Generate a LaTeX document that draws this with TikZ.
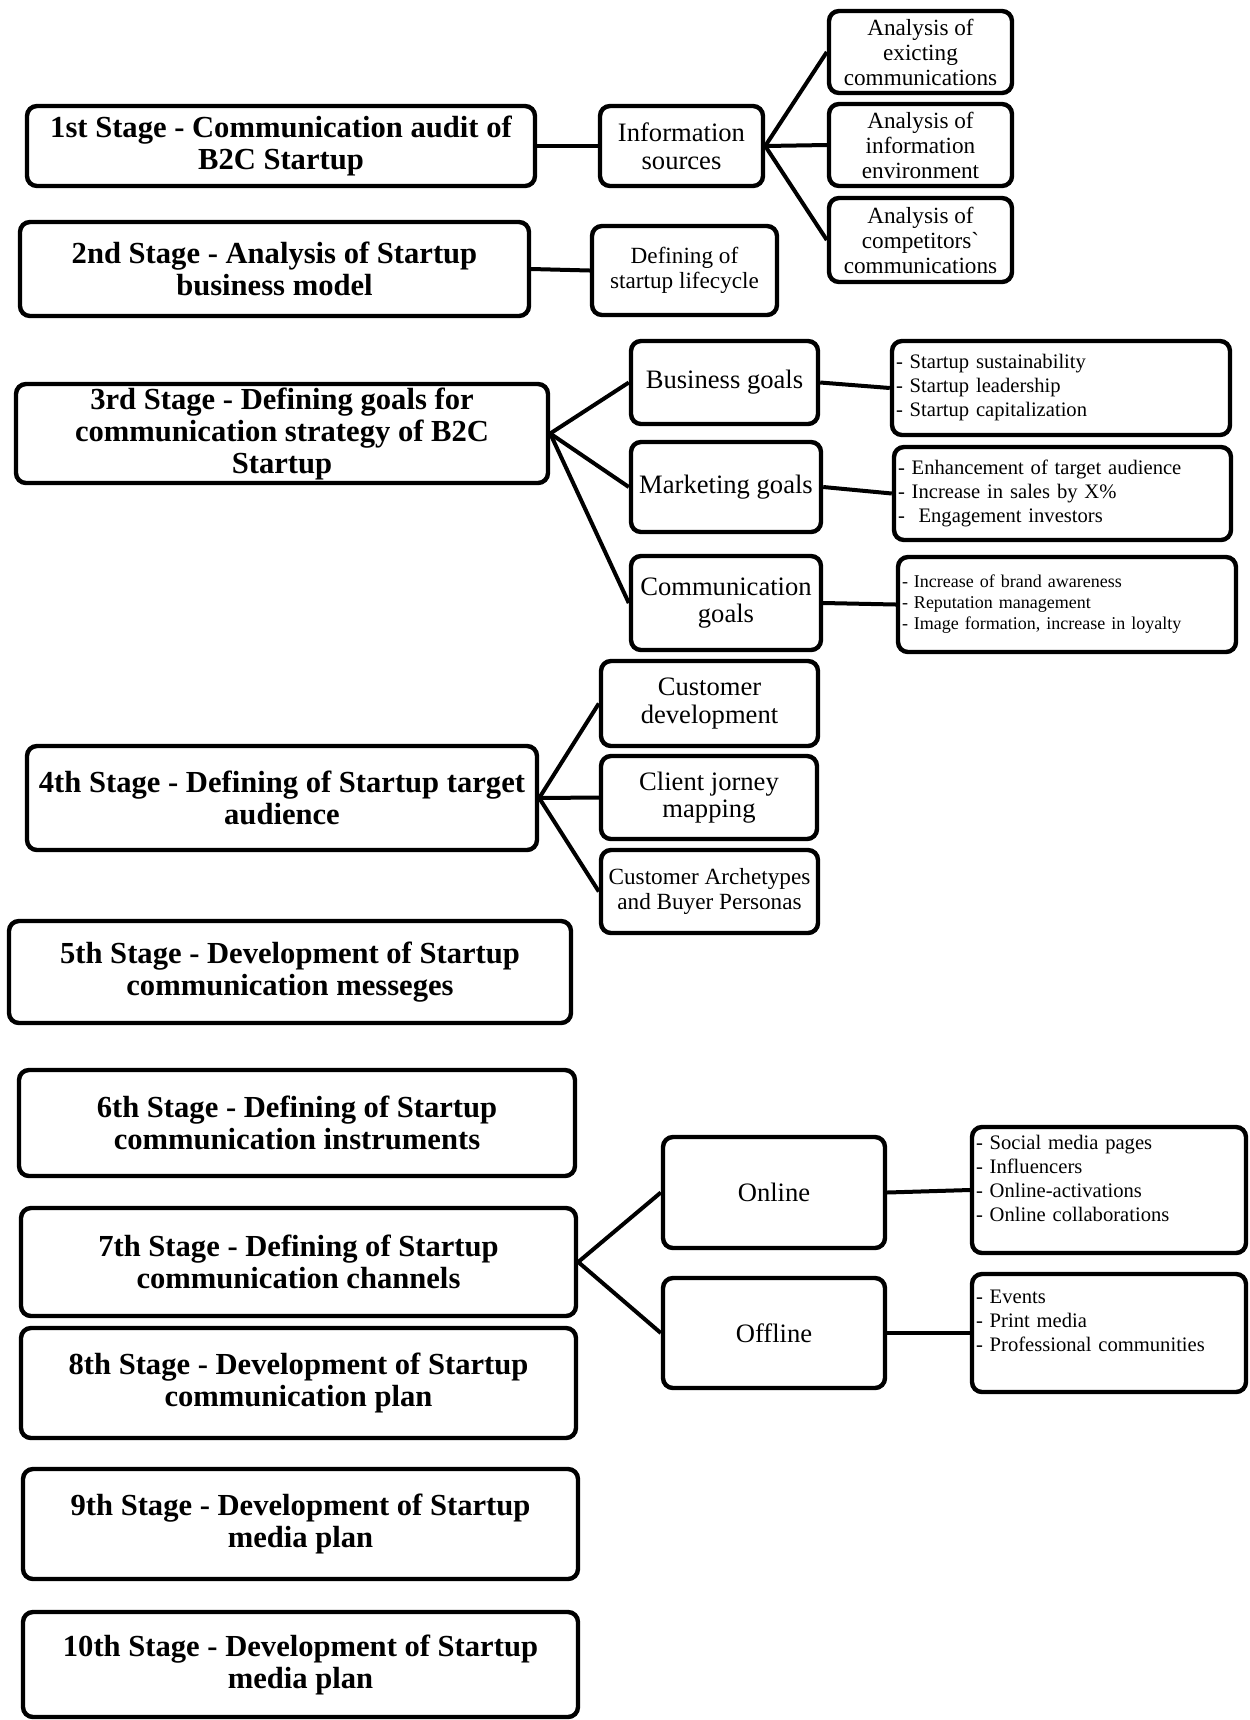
\documentclass[tikz,border=0pt]{standalone}
\usepackage{fontspec}
\setmainfont{Liberation Serif}
\tikzset{
    %Define style for boxes
    stagebox/.style={
           rectangle,
           rounded corners=5pt,
           draw=black, line width=2.2pt,
           inner sep=0pt,
           align=center,
           font=\bfseries\fontsize{15.3}{16}\selectfont},
    subbox/.style={
           stagebox,
           font=\fontsize{13.3}{13.8}\selectfont},
    smallbox/.style={
           stagebox,
           font=\fontsize{11.6}{12.5}\selectfont},
    listbox/.style={
           stagebox,
           align=left,
           inner xsep=1.5pt,
           font=\fontsize{10.3}{12}\selectfont},
    boxsize/.style 2 args={minimum width=#1pt, minimum height=#2pt},
    % Define line style
    link/.style={line width=2pt}
}
\begin{document}
\begin{tikzpicture}[x=0.5pt,y=-0.5pt]
\useasboundingbox (0,0) rectangle (1249,1720);

 %stages
\node[stagebox, boxsize={254}{40}] (s1) at (281,146) {1st Stage - Communication audit of\\B2C Startup};
\node[stagebox, boxsize={254.5}{47}] (s2) at (274.5,269) {2nd Stage - Analysis of Startup\\business model};
\node[stagebox, boxsize={266}{49.5}] (s3) at (282,433.5) {3rd Stage - Defining goals for\\communication strategy of B2C\\Startup};
\node[stagebox, boxsize={255}{52}] (s4) at (282,798) {4th Stage - Defining of Startup target\\audience};
\node[stagebox, boxsize={281}{51}] (s5) at (290,972) {5th Stage - Development of Startup\\communication messeges};
\node[stagebox, boxsize={278}{53}] (s6) at (297,1123) {6th Stage - Defining of Startup\\communication instruments};
\node[stagebox, boxsize={277.5}{54}] (s7) at (298.5,1262) {7th Stage - Defining of Startup\\communication channels};
\node[stagebox, boxsize={277.5}{55}] (s8) at (298.5,1383) {8th Stage - Development of Startup\\communication plan};
\node[stagebox, boxsize={277.5}{55}] (s9) at (300.5,1524) {9th Stage - Development of Startup\\media plan};
\node[stagebox, boxsize={277.5}{52.5}] (s10) at (300.5,1664.5) {10th Stage - Development of Startup\\media plan};

 %second level
\node[subbox, boxsize={81.5}{40}] (info) at (681.5,146) {Information\\sources};
\node[smallbox, boxsize={92.5}{44.5}] (life) at (684.5,270.5) {Defining of\\startup lifecycle};
\node[subbox, boxsize={93.5}{41.5}] (bg) at (724.5,382.5) {Business goals};
\node[subbox, boxsize={95}{45}] (mg) at (726,487) {Marketing goals};
\node[subbox, boxsize={95}{47}] (cg) at (726,603) {Communication\\goals};
\node[subbox, boxsize={108.5}{42.5}] (cd) at (709.5,703.5) {Customer\\development};
\node[subbox, boxsize={108}{41.5}] (cj) at (709,797.5) {Client jorney\\mapping};
\node[smallbox, boxsize={108.5}{41.5}] (ca) at (709.5,891.5) {Customer Archetypes\\and Buyer Personas};
\node[subbox, boxsize={111}{55.5}] (on) at (774,1192.5) {Online};
\node[subbox, boxsize={111}{55}] (off) at (774,1333) {Offline};

 %third level
\node[smallbox, boxsize={91.5}{41}] (a1) at (920.5,52) {Analysis of\\exicting\\communications};
\node[smallbox, boxsize={91.5}{41}] (a2) at (920.5,145) {Analysis of\\information\\environment};
\node[smallbox, boxsize={91.5}{42}] (a3) at (920.5,240) {Analysis of\\competitors\textasciigrave\\communications};
\node[listbox, boxsize={169}{47}, text width=165pt] (bgl) at (1061,388) {- Startup sustainability\\- Startup leadership\\- Startup capitalization};
\node[listbox, boxsize={168.5}{46.5}, text width=164.5pt] (mgl) at (1062.5,493.5) {- Enhancement of target audience\\- Increase in sales by X\%\\-~~Engagement investors};
\node[listbox, boxsize={169}{47.5}, text width=165pt, font=\fontsize{9}{10.5}\selectfont] (cgl) at (1067,604.5) {- Increase of brand awareness\\- Reputation management\\- Image formation, increase in loyalty};
\node[listbox, boxsize={137}{63}, text width=133pt] (onl) at (1109,1190) {- Social media pages\\- Influencers\\- Online-activations\\- Online collaborations\\~};
\node[listbox, boxsize={137}{59}, text width=133pt] (offl) at (1109,1333) {- Events\\- Print media\\- Professional communities\\~};

 %links
\foreach \a/\b in {s1/info, s2/life, bg/bgl, mg/mgl, cg/cgl, on/onl, off/offl}
    \draw[link] (\a.east) -- (\b.west);
\foreach \b in {a1, a2, a3}
    \draw[link] (info.east) -- (\b.west);
\foreach \b in {bg, mg, cg}
    \draw[link] (s3.east) -- (\b.west);
\foreach \b in {cd, cj, ca}
    \draw[link] (s4.east) -- (\b.west);
\foreach \b in {on, off}
    \draw[link] (s7.east) -- (\b.west);

\end{tikzpicture}
\end{document}
